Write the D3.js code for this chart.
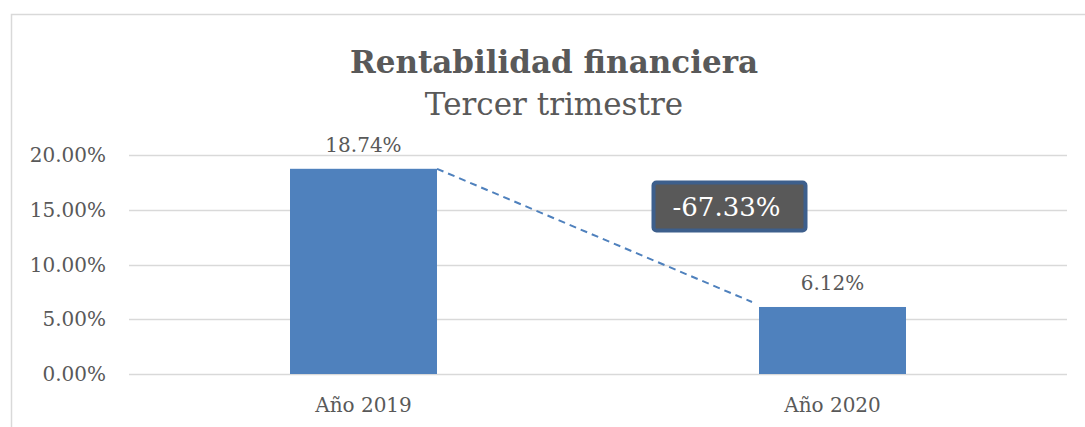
<!DOCTYPE html>
<html>
<head>
<meta charset="utf-8">
<style>
  body { margin: 0; background: #fff; }
  svg text { font-family: "DejaVu Serif", serif; fill: #595959; }
</style>
</head>
<body>
<div id="chart"></div>
<script src="https://cdnjs.cloudflare.com/ajax/libs/d3/7.8.5/d3.min.js"></script>
<script>
const categories = ["Año 2019", "Año 2020"];
const values = [18.74, 6.12];
const yTicks = [0, 5, 10, 15, 20];
const changeLabel = "-67.33%";

const W = 1085, H = 427;
const margin = { top: 155, right: 18, bottom: 53, left: 129 };

const svg = d3.select("#chart").append("svg")
  .attr("width", W).attr("height", H);

// chart frame
svg.append("rect")
  .attr("x", 11.5).attr("y", 14.5)
  .attr("width", W + 20).attr("height", H + 20)
  .attr("fill", "none").attr("stroke", "#d9d9d9").attr("stroke-width", 1.5);

const x = d3.scaleBand()
  .domain(categories)
  .range([margin.left, W - margin.right])
  .paddingInner(0.6866)
  .paddingOuter(0.3433);

const y = d3.scaleLinear()
  .domain([0, 20])
  .range([H - margin.bottom, margin.top]);

// gridlines
svg.append("g")
  .selectAll("line")
  .data(yTicks)
  .join("line")
  .attr("x1", margin.left).attr("x2", W - margin.right)
  .attr("y1", d => Math.round(y(d)) + 0.5).attr("y2", d => Math.round(y(d)) + 0.5)
  .attr("stroke", "#d9d9d9").attr("stroke-width", 1.5);

// y tick labels
svg.append("g")
  .selectAll("text")
  .data(yTicks)
  .join("text")
  .attr("x", 106)
  .attr("y", d => y(d) + 7)
  .attr("text-anchor", "end")
  .attr("font-size", 20)
  .text(d => d.toFixed(2) + "%");

// bars
svg.append("g")
  .selectAll("rect")
  .data(values)
  .join("rect")
  .attr("x", (d, i) => x(categories[i]))
  .attr("y", d => y(d))
  .attr("width", x.bandwidth())
  .attr("height", d => y(0) - y(d))
  .attr("fill", "#4f81bd");

// value labels
svg.append("g")
  .selectAll("text")
  .data(values)
  .join("text")
  .attr("x", (d, i) => x(categories[i]) + x.bandwidth() / 2)
  .attr("y", d => y(d) - 17)
  .attr("text-anchor", "middle")
  .attr("font-size", 20)
  .text(d => d.toFixed(2) + "%");

// category labels
svg.append("g")
  .selectAll("text")
  .data(categories)
  .join("text")
  .attr("x", d => x(d) + x.bandwidth() / 2)
  .attr("y", H - 15)
  .attr("text-anchor", "middle")
  .attr("font-size", 20)
  .text(d => d);

// dashed trend line between bar tops
svg.append("line")
  .attr("x1", x(categories[0]) + x.bandwidth())
  .attr("y1", y(values[0]))
  .attr("x2", x(categories[1]) - 7)
  .attr("y2", y(values[1]) - 5)
  .attr("stroke", "#4f81bd").attr("stroke-width", 2)
  .attr("stroke-dasharray", "7,5");

// change callout
const cx = x(categories[1]) + x.bandwidth() / 2 - 103;
const cy = y(15.3);
const callout = svg.append("g").attr("transform", `translate(${cx},${cy})`);
callout.append("rect")
  .attr("x", -76).attr("y", -24)
  .attr("width", 152).attr("height", 48)
  .attr("rx", 3)
  .attr("fill", "#595959").attr("stroke", "#3d5f8c").attr("stroke-width", 4);
callout.append("text")
  .attr("x", -3).attr("y", 10)
  .attr("text-anchor", "middle")
  .attr("font-size", 26)
  .style("fill", "#ffffff")
  .text(changeLabel);

// titles
svg.append("text")
  .attr("x", 554).attr("y", 73)
  .attr("text-anchor", "middle")
  .attr("font-size", 31)
  .attr("font-weight", "bold")
  .text("Rentabilidad financiera");
svg.append("text")
  .attr("x", 554).attr("y", 115)
  .attr("text-anchor", "middle")
  .attr("font-size", 31)
  .text("Tercer trimestre");
</script>
</body>
</html>
